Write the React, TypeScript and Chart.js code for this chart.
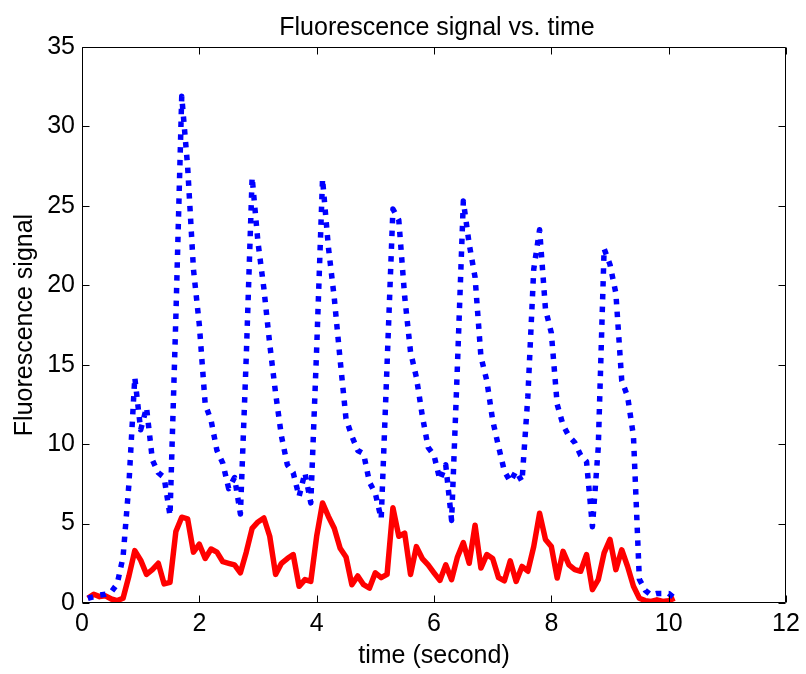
import React, { useEffect, useRef } from "react";
import { Chart, registerables } from "chart.js";

Chart.register(...registerables);

const TITLE = "Fluorescence signal vs. time";
const X_LABEL = "time (second)";
const Y_LABEL = "Fluorescence signal";

const timeSeconds = [
  0.1, 0.2, 0.3, 0.4, 0.5, 0.6, 0.7, 0.8, 0.9, 1.0,
  1.1, 1.2, 1.3, 1.4, 1.5, 1.6, 1.7, 1.8, 1.9, 2.0,
  2.1, 2.2, 2.3, 2.4, 2.5, 2.6, 2.7, 2.8, 2.9, 3.0,
  3.1, 3.2, 3.3, 3.4, 3.5, 3.6, 3.7, 3.8, 3.9, 4.0,
  4.1, 4.2, 4.3, 4.4, 4.5, 4.6, 4.7, 4.8, 4.9, 5.0,
  5.1, 5.2, 5.3, 5.4, 5.5, 5.6, 5.7, 5.8, 5.9, 6.0,
  6.1, 6.2, 6.3, 6.4, 6.5, 6.6, 6.7, 6.8, 6.9, 7.0,
  7.1, 7.2, 7.3, 7.4, 7.5, 7.6, 7.7, 7.8, 7.9, 8.0,
  8.1, 8.2, 8.3, 8.4, 8.5, 8.6, 8.7, 8.8, 8.9, 9.0,
  9.1, 9.2, 9.3, 9.4, 9.5, 9.6, 9.7, 9.8, 9.9, 10.0,
  10.1,
];

const blueSignal = [
  0.3, 0.4, 0.5, 0.55, 0.7, 1.2, 2.9, 7.5, 14.2, 10.9,
  12.3, 9.0, 8.2, 7.9, 5.5, 18.0, 31.9, 27.5, 21.0, 17.5,
  12.5, 11.5, 9.6, 8.8, 7.2, 7.9, 5.6, 15.5, 26.8, 22.7,
  19.8, 16.3, 13.2, 10.5, 8.7, 8.2, 6.7, 8.2, 6.3, 16.0,
  26.7, 22.4, 19.2, 15.3, 11.6, 10.5, 9.6, 9.4, 7.6, 6.9,
  5.3, 15.0, 24.8, 24.1, 19.3, 15.8, 14.2, 11.8, 9.8, 9.3,
  7.75, 8.7, 5.2, 15.0, 25.3, 22.6, 20.5, 15.5, 14.0, 11.5,
  9.85, 8.3, 7.65, 8.3, 7.65, 13.0, 21.0, 23.5, 18.5, 17.0,
  12.5, 11.2, 10.5, 10.1, 9.3, 8.9, 4.8, 9.8, 22.3, 21.3,
  19.5, 14.0, 13.0, 10.5, 1.5, 0.8, 0.5, 0.6, 0.6, 0.6,
  0.3,
];

const redSignal = [
  0.3, 0.55, 0.4, 0.45, 0.25, 0.15, 0.3, 1.7, 3.3, 2.7,
  1.8, 2.1, 2.5, 1.2, 1.3, 4.5, 5.4, 5.3, 3.2, 3.7,
  2.8, 3.4, 3.2, 2.6, 2.5, 2.4, 1.9, 3.2, 4.7, 5.1,
  5.35, 4.2, 1.8, 2.5, 2.8, 3.05, 1.05, 1.47, 1.36, 4.2,
  6.3, 5.45, 4.7, 3.45, 2.9, 1.15, 1.7, 1.15, 0.94, 1.9,
  1.6, 1.8, 6.0, 4.2, 4.4, 1.8, 3.55, 2.8, 2.4, 1.9,
  1.42, 2.4, 1.47, 2.9, 3.8, 2.5, 4.9, 2.2, 3.05, 2.8,
  1.6, 1.4, 2.65, 1.36, 2.3, 2.0, 3.55, 5.65, 4.0, 3.55,
  1.57, 3.25, 2.4, 2.1, 2.0, 3.05, 0.84, 1.47, 3.15, 4.0,
  2.1, 3.35, 2.3, 1.05, 0.3, 0.15, 0.1, 0.2, 0.1, 0.15,
  0.3,
];

const xTickRange = { min: 0, max: 12, step: 2 };
const yTickRange = { min: 0, max: 35, step: 5 };

const FONT = "'Liberation Sans', Arial, Helvetica, sans-serif";

const boxPlugin = {
  id: "matlabBox",
  afterDraw(chart: any) {
    const { ctx, chartArea } = chart;
    const xs = chart.scales.x;
    const ys = chart.scales.y;
    const L = Math.round(chartArea.left) + 0.5;
    const R = Math.round(chartArea.right) - 0.5;
    const T = Math.round(chartArea.top) + 0.5;
    const B = Math.round(chartArea.bottom) - 0.5;
    const tick = 7;
    ctx.save();
    ctx.strokeStyle = "#000";
    ctx.lineWidth = 1;
    ctx.beginPath();
    ctx.rect(L, T, R - L, B - T);
    for (const t of xs.ticks) {
      const px = Math.round(xs.getPixelForValue(t.value)) + 0.5;
      ctx.moveTo(px, B);
      ctx.lineTo(px, B - tick);
      ctx.moveTo(px, T);
      ctx.lineTo(px, T + tick);
    }
    for (const t of ys.ticks) {
      const py = Math.round(ys.getPixelForValue(t.value)) + 0.5;
      ctx.moveTo(L, py);
      ctx.lineTo(L + tick, py);
      ctx.moveTo(R, py);
      ctx.lineTo(R - tick, py);
    }
    ctx.stroke();
    // title
    ctx.fillStyle = "#000";
    ctx.font = `25px ${FONT}`;
    ctx.textAlign = "center";
    ctx.textBaseline = "alphabetic";
    ctx.fillText(TITLE, (chartArea.left + chartArea.right) / 2 + 3, 35);
    ctx.restore();
  },
};

export default function App() {
  const canvasRef = useRef<HTMLCanvasElement | null>(null);

  useEffect(() => {
    const canvas = canvasRef.current;
    if (!canvas) return;
    const blueData = timeSeconds.map((t, i) => ({ x: t, y: blueSignal[i] }));
    const redData = timeSeconds.map((t, i) => ({ x: t, y: redSignal[i] }));
    const chart = new Chart(canvas, {
      type: "line",
      data: {
        datasets: [
          {
            label: "signal A",
            data: blueData,
            borderColor: "#0000ff",
            borderWidth: 5.5,
            borderDash: [5.5, 7.3],
            borderCapStyle: "butt",
            borderJoinStyle: "round",
            pointRadius: 0,
            tension: 0,
            fill: false,
          },
          {
            label: "signal B",
            data: redData,
            borderColor: "#ff0000",
            borderWidth: 5.5,
            borderJoinStyle: "round",
            pointRadius: 0,
            tension: 0,
            fill: false,
          },
        ],
      },
      options: {
        responsive: false,
        animation: false,
        events: [],
        layout: { padding: { top: 47, right: 20, left: 0, bottom: 0 } },
        plugins: {
          legend: { display: false },
          title: { display: false },
          tooltip: { enabled: false },
        },
        scales: {
          x: {
            type: "linear",
            min: xTickRange.min,
            max: xTickRange.max,
            grid: { display: false, drawTicks: false },
            border: { display: false },
            ticks: {
              stepSize: xTickRange.step,
              color: "#000",
              padding: 6,
              maxRotation: 0,
              autoSkip: false,
              font: { family: FONT, size: 25 },
            },
            title: {
              display: true,
              text: X_LABEL,
              color: "#000",
              font: { family: FONT, size: 25 },
              padding: { top: 0, bottom: 3 },
            },
            afterFit(scale: any) {
              scale.height = 71;
            },
          },
          y: {
            type: "linear",
            min: yTickRange.min,
            max: yTickRange.max,
            grid: { display: false, drawTicks: false },
            border: { display: false },
            ticks: {
              stepSize: yTickRange.step,
              color: "#000",
              padding: 7,
              autoSkip: false,
              font: { family: FONT, size: 25 },
            },
            title: {
              display: true,
              text: Y_LABEL,
              color: "#000",
              font: { family: FONT, size: 25 },
              padding: { top: 10, bottom: 0 },
            },
            afterFit(scale: any) {
              scale.width = 82;
            },
          },
        },
      },
      plugins: [boxPlugin],
    });
    return () => chart.destroy();
  }, []);

  return (
    <div style={{ position: "absolute", left: 0, top: 0, width: 806, height: 674, background: "#fff" }}>
      <canvas ref={canvasRef} width={806} height={674} style={{ display: "block" }} />
    </div>
  );
}
